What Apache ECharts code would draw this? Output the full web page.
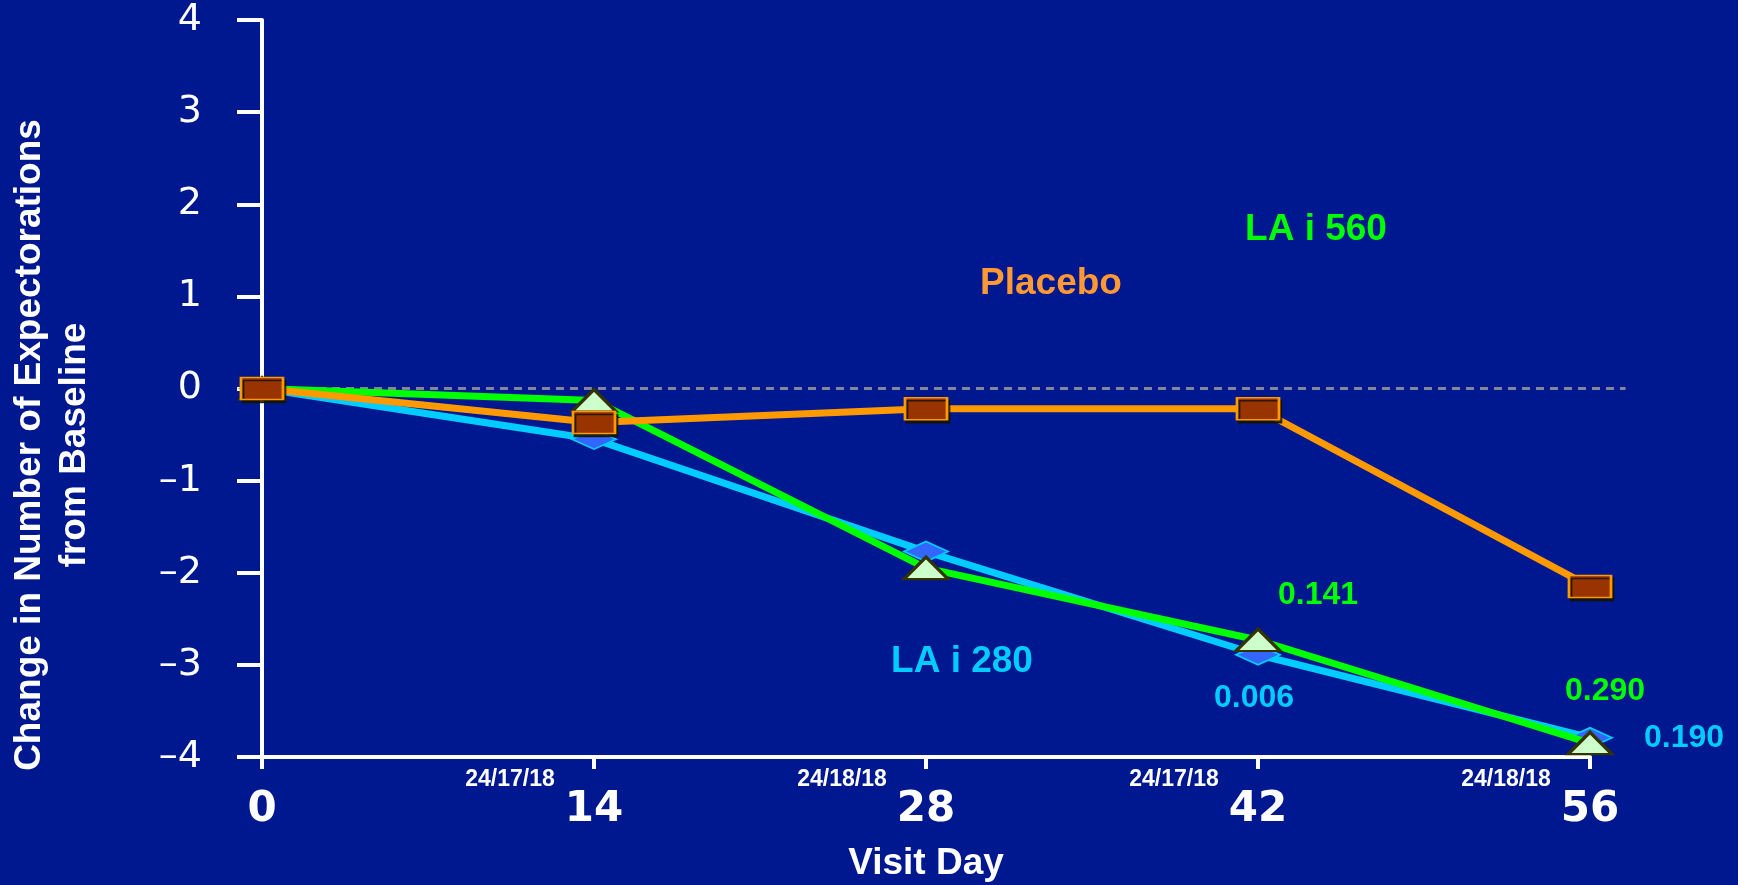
<!DOCTYPE html>
<html>
<head>
<meta charset="utf-8">
<script src="https://cdn.jsdelivr.net/npm/echarts@6/dist/echarts.min.js"></script>
<style>
  html, body { margin: 0; padding: 0; background: #00188F; }
  #chart { width: 1738px; height: 885px; }
</style>
</head>
<body>
<div id="chart"></div>
<script>
// Visit days and their tick labels
const visitDays = [0, 14, 28, 42, 56];
const dayTickLabels = ['0', '14', '28', '42', '56'];
const visitDates = ['', '24/17/18', '24/18/18', '24/17/18', '24/18/18'];

// Mean change from baseline per treatment arm
const placebo = [0, -0.37, -0.22, -0.22, -2.15];
const lai280 = [0, -0.55, -1.77, -2.89, -3.79];
const lai560 = [0, -0.13, -1.95, -2.73, -3.85];

// p-values versus placebo
const pValues280 = ['', '', '', '0.006', '0.190'];
const pValues560 = ['', '', '', '0.141', '0.290'];

const seriesNames = ['Placebo', 'LA i 280', 'LA i 560'];
const zeroLineEnd = 57.5;

const BG = '#00188F';
const ORANGE = '#FF9900';
const CYAN = '#00CCFF';
const GREEN = '#00FF00';
const SANS = '"Liberation Sans", Arial, sans-serif';
const WIDE = '"DejaVu Sans", Verdana, sans-serif';

function pts(values, pvals, offsets, color) {
  return visitDays.map((d, i) => {
    const item = { value: [d, values[i]] };
    if (pvals && pvals[i]) {
      item.label = {
        show: true,
        position: 'inside',
        formatter: pvals[i],
        offset: offsets[i],
        color: color,
        textBorderWidth: 0,
        fontFamily: SANS,
        fontWeight: 'bold',
        fontSize: 32
      };
    }
    return item;
  });
}

const chart = echarts.init(document.getElementById('chart'), null, { renderer: 'canvas' });

const seriesCaptions = [
  { id: 'capPlacebo', text: seriesNames[0], fill: '#FF9933', x: 1051, y: 284 },
  { id: 'cap280', text: seriesNames[1], fill: CYAN, x: 962, y: 662 },
  { id: 'cap560', text: seriesNames[2], fill: GREEN, x: 1316, y: 230 }
];

chart.setOption({
  backgroundColor: BG,
  animation: false,
  grid: { left: 262, right: 148, top: 20, bottom: 128, outerBoundsMode: 'none', containLabel: false },
  xAxis: {
    type: 'value',
    min: 0, max: 56, interval: 14,
    axisLine: { onZero: false, lineStyle: { color: '#fff', width: 4 } },
    axisTick: { inside: false, length: 12, lineStyle: { color: '#fff', width: 4 } },
    splitLine: { show: false },
    axisLabel: {
      color: '#fff', fontFamily: WIDE, fontWeight: 'bold', fontSize: 42,
      margin: 32,
      formatter: v => dayTickLabels[visitDays.indexOf(v)]
    },
    name: 'Visit Day',
    nameLocation: 'middle',
    nameGap: 88,
    nameTextStyle: { color: '#fff', fontFamily: SANS, fontWeight: 'bold', fontSize: 37 }
  },
  yAxis: {
    type: 'value',
    min: -4, max: 4, interval: 1,
    axisLine: { lineStyle: { color: '#fff', width: 4 } },
    axisTick: { inside: false, length: 25, lineStyle: { color: '#fff', width: 4 } },
    splitLine: { show: false },
    axisLabel: {
      color: '#fff', fontFamily: WIDE, fontSize: 38,
      margin: 60,
      formatter: v => String(v).replace('-', '\u2013')
    }
  },
  graphic: {
    elements: [
      {
        id: 'yTitle', type: 'text', x: 52, y: 445, rotation: Math.PI / 2,
        style: {
          text: 'Change in Number of Expectorations\nfrom Baseline',
          fill: '#fff', font: 'bold 37px ' + SANS,
          align: 'center', verticalAlign: 'middle', lineHeight: 45
        }
      }
    ].concat(seriesCaptions.map(t => ({
      id: t.id, type: 'text', x: t.x, y: t.y,
      style: { text: t.text, fill: t.fill, font: 'bold 37px ' + SANS, align: 'center', verticalAlign: 'middle' }
    })))
  },
  series: [
    {
      // visit date captions under the day axis
      type: 'scatter', silent: true, clip: false, z: 1,
      symbolSize: 0,
      itemStyle: { opacity: 1 },
      data: visitDays.map((d, i) => ({ value: [d, -4], name: visitDates[i] })).filter(p => p.name),
      label: {
        show: true, position: 'inside', offset: [-84, 23],
        formatter: p => p.name,
        color: '#ffffff', textBorderWidth: 0,
        fontFamily: SANS, fontWeight: 'bold', fontSize: 23
      }
    },
    {
      name: seriesNames[1], type: 'line', z: 3,
      data: pts(lai280, pValues280, [null, null, null, [-4, 43], [94, 1]], CYAN),
      lineStyle: { color: CYAN, width: 7 },
      symbol: 'diamond', symbolSize: [44, 20],
      itemStyle: { color: '#3366FF', borderColor: CYAN, borderWidth: 2 }
    },
    {
      name: seriesNames[2], type: 'line', z: 4,
      data: pts(lai560, pValues560, [null, null, null, [60, -45], [15, -52]], GREEN),
      lineStyle: { color: GREEN, width: 7 },
      symbol: 'triangle', symbolSize: [44, 22],
      itemStyle: { color: '#CCFFCC', borderColor: '#333300', borderWidth: 3 }
    },
    {
      name: seriesNames[0], type: 'line', z: 5,
      data: pts(placebo, null, null, ORANGE),
      lineStyle: { color: ORANGE, width: 7 },
      symbol: 'rect', symbolSize: [42, 22],
      itemStyle: {
        color: '#993300', borderColor: ORANGE, borderWidth: 2,
        shadowColor: 'rgba(20,20,0,0.85)', shadowOffsetX: 2, shadowOffsetY: 3, shadowBlur: 0
      }
    }
  ]
});

// dashed zero reference line, running a little past the last visit
const p0 = chart.convertToPixel({ gridIndex: 0 }, [0, 0]);
const p1 = chart.convertToPixel({ gridIndex: 0 }, [zeroLineEnd, 0]);
chart.setOption({
  graphic: {
    elements: [{
      id: 'zeroLine', type: 'line', z: 1, silent: true,
      shape: { x1: p0[0], y1: p0[1], x2: p1[0], y2: p1[1] },
      style: { stroke: '#85859A', lineWidth: 3, lineDash: [8, 6] }
    }]
  }
});
</script>
</body>
</html>
